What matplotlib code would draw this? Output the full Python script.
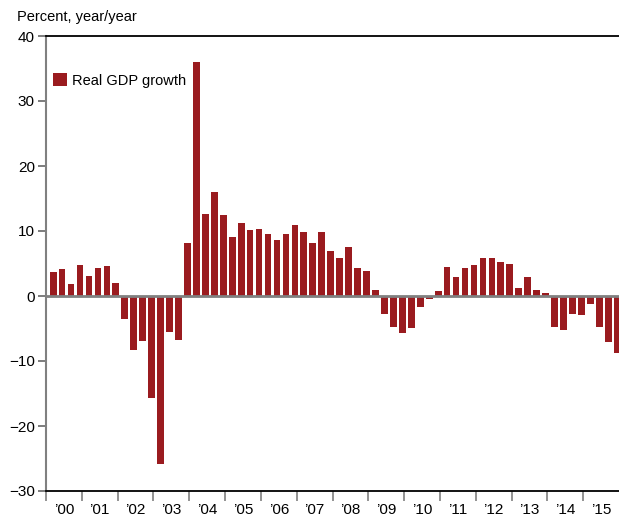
import matplotlib
matplotlib.use("Agg")
import matplotlib.pyplot as plt
import numpy as np

plt.rcParams["font.family"] = ["Liberation Sans Narrow", "Liberation Sans", "DejaVu Sans"]

RED = "#9A1B1F"
GRAY = "#808080"

# quarterly real GDP growth, percent year/year, 2000Q1 - 2015Q4
gdp = [
    3.7, 4.2, 1.9, 4.8,        # 2000
    3.1, 4.3, 4.6, 2.0,        # 2001
    -3.6, -8.3, -6.9, -15.7,   # 2002
    -25.8, -5.6, -6.7, 8.2,    # 2003
    36.0, 12.6, 16.0, 12.5,    # 2004
    9.1, 11.2, 10.1, 10.3,     # 2005
    9.6, 8.6, 9.5, 11.0,       # 2006
    9.9, 8.1, 9.9, 7.0,        # 2007
    5.9, 7.5, 4.3, 3.8,        # 2008
    1.0, -2.7, -4.7, -5.7,     # 2009
    -4.9, -1.7, -0.5, 0.7,     # 2010
    4.4, 2.9, 4.3, 4.7,        # 2011
    5.9, 5.9, 5.3, 4.9,        # 2012
    1.2, 2.9, 1.0, 0.4,        # 2013
    -4.8, -5.2, -2.8, -2.9,    # 2014
    -1.2, -4.8, -7.1, -8.8,    # 2015
]
years = list(range(2000, 2016))
year_labels = ["\u2019%02d" % (y % 100) for y in years]

fig = plt.figure(figsize=(6.19, 5.18), dpi=100)
ax = fig.add_axes([46 / 619, 1 - 491 / 518, 573 / 619, 455 / 518])

x = np.arange(len(gdp)) + 0.8
ax.bar(x, gdp, width=0.75, color=RED, label="Real GDP growth", zorder=2)
ax.axhline(0, color=GRAY, lw=2.0, zorder=3)

ax.set_xlim(0, 64)
ax.set_ylim(-30, 40)

# y axis
ax.set_yticks(range(-30, 41, 10))
ax.tick_params(axis="y", direction="out", length=6, width=1.2, color="#666666",
               labelsize=11, pad=2)

# x axis: ticks at year boundaries, labels centred in each year
ax.set_xticks(np.arange(0, 64, 4))
ax.set_xticklabels([])
ax.set_xticks(np.arange(2, 64, 4), minor=True)
ax.set_xticklabels(year_labels, minor=True)
ax.tick_params(axis="x", which="major", direction="out", length=7, width=1.2, color=GRAY)
ax.tick_params(axis="x", which="minor", length=0, labelsize=11, pad=9)

ax.spines["right"].set_visible(False)
ax.spines["left"].set_color(GRAY)
ax.spines["left"].set_linewidth(1.5)
ax.spines["top"].set_color("black")
ax.spines["top"].set_linewidth(1.3)
ax.spines["bottom"].set_color("black")
ax.spines["bottom"].set_linewidth(1.3)

ax.legend(loc="upper left", bbox_to_anchor=(0.012, 0.918), frameon=False,
          borderaxespad=0, borderpad=0,
          handlelength=0.95, handleheight=0.95, handletextpad=0.35, fontsize=10.5)

fig.text(17 / 619, 1 - 17 / 518, "Percent, year/year", fontsize=10.5, va="center", ha="left")

fig.savefig("out.png", dpi=100)
